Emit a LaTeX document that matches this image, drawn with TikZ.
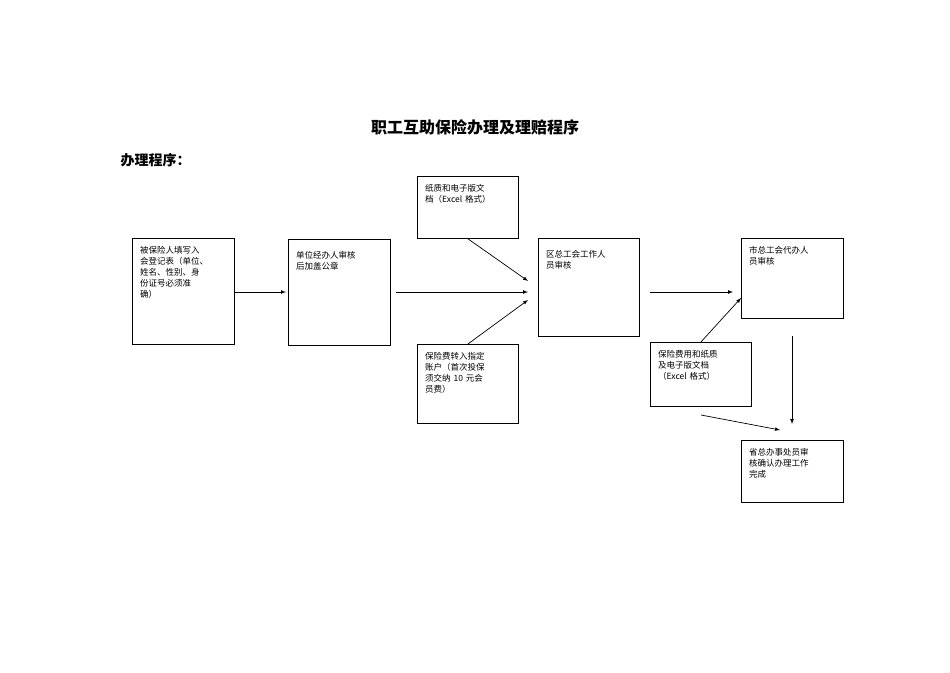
\documentclass[tikz,border=0pt]{standalone}
\usepackage{fontspec}
\newfontfamily\cjk{Noto Sans CJK SC}
\usetikzlibrary{calc}
\begin{document}
\begin{tikzpicture}[x=1pt,y=-1pt,
  box/.style={draw,line width=0.8pt,anchor=north west,inner sep=0pt},
  lab/.style={anchor=north west,inner sep=0pt,align=left,font=\cjk\fontsize{8.5}{11}\selectfont},
  arr/.style={-latex,line width=0.7pt}]
\useasboundingbox (0,0) rectangle (950,672);
\node[font=\cjk\bfseries\fontsize{16}{18}\selectfont] (title) at (475,127) {职工互助保险办理及理赔程序};
\node[font=\cjk\bfseries\fontsize{14}{16}\selectfont,anchor=west] (sub) at (117,160) {办理程序：};
\newcommand\bx[6]{\node[box,minimum width=#4,minimum height=#5] (#1) at (#2,#3) {};
  \node[lab,text width=#4-14] at ($(#1.north west)+(8,8)$) {#6};}
\bx{A}{132}{238}{102}{106}{被保险人填写入\\会登记表（单位、\\姓名、性别、身\\份证号必须准\\确）}
\bx{B}{288}{239}{102}{106}{\\单位经办人审核\\后加盖公章}
\bx{C}{417}{176}{101}{62}{纸质和电子版文\\档（Excel 格式）}
\bx{D}{417}{344}{101}{79}{保险费转入指定\\账户（首次投保\\须交纳 10 元会\\员费）}
\bx{E}{538}{238}{101}{98}{\\区总工会工作人\\员审核}
\bx{F}{741}{238}{102}{80}{市总工会代办人\\员审核}
\bx{G}{650}{342}{101}{64}{保险费用和纸质\\及电子版文档\\（Excel 格式）}
\bx{H}{741}{440}{102}{62}{省总办事处员审\\核确认办理工作\\完成}
\coordinate (bs) at (396,292); \coordinate (et) at (528,292);
\coordinate (et1) at (528,281); \coordinate (et2) at (528,300);
\coordinate (es) at (650,292); \coordinate (ft) at (733,292);
\coordinate (ft2) at (741,298); \coordinate (fs) at (792,336);
\coordinate (ht) at (792,424); \coordinate (gs) at (701,415); \coordinate (ht2) at (780,430);
\draw[arr] (A.east |- 0,292) -- (286,292);
\draw[arr] (bs) -- (et);
\draw[arr] (C.south) -- (et1);
\draw[arr] (D.north) -- (et2);
\draw[arr] (es) -- (ft);
\draw[arr] (G.north) -- (ft2);
\draw[arr] (fs) -- (ht);
\draw[arr] (gs) -- (ht2);
\end{tikzpicture}
\end{document}
